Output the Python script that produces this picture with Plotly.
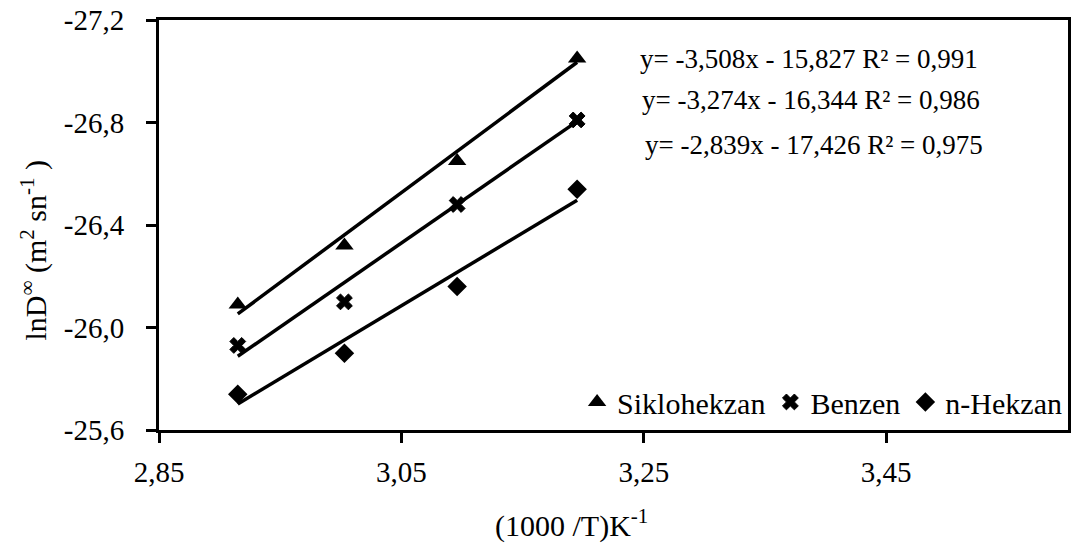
import plotly.graph_objects as go
import numpy as np

# Data
x_vals = [2.915, 3.003, 3.096, 3.195]
series_names = ["Siklohekzan", "Benzen", "n-Hekzan"]
siklohekzan = [-26.09, -26.32, -26.65, -27.05]
benzen = [-25.93, -26.10, -26.48, -26.81]
n_hekzan = [-25.74, -25.90, -26.16, -26.54]
slopes = [-3.508, -3.274, -2.839]
intercepts = [-15.827, -16.344, -17.426]
r2_vals = [0.991, 0.986, 0.975]
x_ticks = [2.85, 3.05, 3.25, 3.45]
x_ticktext = ["2,85", "3,05", "3,25", "3,45"]
y_ticks = [-27.2, -26.8, -26.4, -26.0, -25.6]
y_ticktext = ["-27,2", "-26,8", "-26,4", "-26,0", "-25,6"]

symbols = ["triangle-up", "x", "diamond"]
sizes = [16, 14, 15]
series_vals = [siklohekzan, benzen, n_hekzan]

FONT = "Liberation Serif"
fig = go.Figure()

for name, vals, sym, sz in zip(series_names, series_vals, symbols, sizes):
    fig.add_trace(go.Scatter(
        x=x_vals, y=vals, mode="markers", name=name,
        marker=dict(symbol=sym, size=sz, color="black",
                    line=dict(width=0 if sym != "x" else 1, color="black")),
    ))

xs = np.array([x_vals[0], x_vals[-1]])
for m, b in zip(slopes, intercepts):
    fig.add_trace(go.Scatter(
        x=xs, y=m * xs + b, mode="lines", showlegend=False,
        line=dict(color="black", width=3.5), hoverinfo="skip",
    ))

def fmt(v, d):
    return f"{v:.{d}f}".replace(".", ",")

eq_pos = [(0.527, 0.905), (0.529, 0.805), (0.533, 0.695)]
for (m, b, r2), (px, py) in zip(zip(slopes, intercepts, r2_vals), eq_pos):
    txt = f"y= {fmt(m,3)}x - {fmt(-b,3)} R² = {fmt(r2,3)}"
    fig.add_annotation(x=px, y=py, xref="paper", yref="paper", text=txt,
                       showarrow=False, xanchor="left", yanchor="middle",
                       font=dict(family=FONT, size=27, color="black"))

# Axis titles (placed like the original, slightly off-centre)
fig.add_annotation(x=0.454, y=-0.229, xref="paper", yref="paper",
                   text="(1000 /T)K<sup>-1</sup>", showarrow=False,
                   xanchor="center", yanchor="middle",
                   font=dict(family=FONT, size=30, color="black"))
fig.add_annotation(x=-0.138, y=0.439, xref="paper", yref="paper",
                   text="lnD<sup>∞</sup> (m<sup>2</sup> sn<sup>-1</sup> )", showarrow=False,
                   textangle=-90, xanchor="center", yanchor="middle",
                   font=dict(family=FONT, size=30, color="black"))

fig.update_layout(
    width=1073, height=544,
    margin=dict(l=159, r=2, t=20, b=114),
    paper_bgcolor="white", plot_bgcolor="white",
    font=dict(family=FONT, size=28, color="black"),
    legend=dict(orientation="h", x=0.999, xanchor="right", y=0.005, yanchor="bottom",
                bgcolor="rgba(0,0,0,0)", font=dict(family=FONT, size=30),
                itemwidth=30, tracegroupgap=0),
    xaxis=dict(range=[2.85, 3.6], tickvals=x_ticks, ticktext=x_ticktext,
               showgrid=False, zeroline=False, showline=True, linecolor="black",
               linewidth=3, mirror=True, ticks="outside", ticklen=10, tickwidth=3,
               tickcolor="black", tickfont=dict(size=29), ticklabelstandoff=4),
    yaxis=dict(range=[-25.6, -27.2], tickvals=y_ticks, ticktext=y_ticktext,
               showgrid=False, zeroline=False, showline=True, linecolor="black",
               linewidth=3, mirror=True, ticks="outside", ticklen=10, tickwidth=3,
               tickcolor="black", tickfont=dict(size=29), ticklabelstandoff=16),
)

fig.write_html("out.html")
